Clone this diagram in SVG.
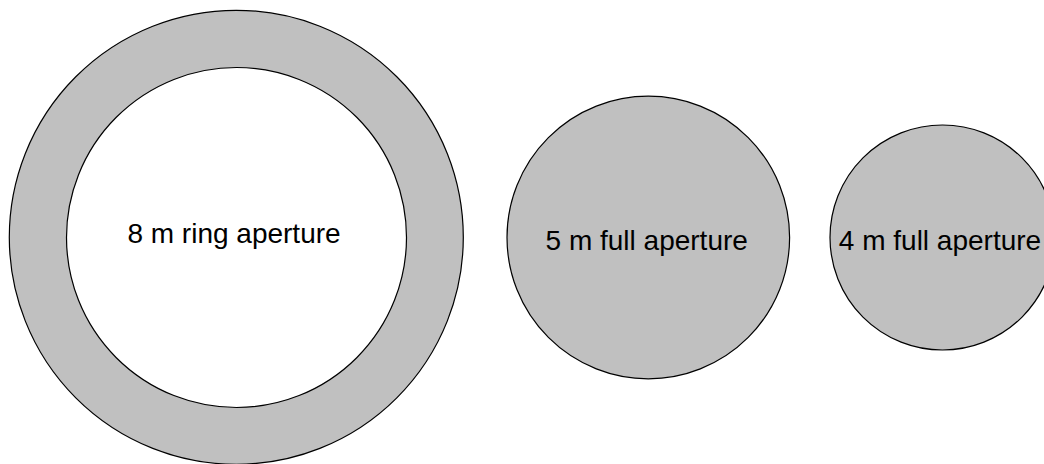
<svg xmlns="http://www.w3.org/2000/svg" width="1044" height="464" viewBox="0 0 1044 464">
<style>
.ap{fill:#c0c0c0;stroke:#000;stroke-width:1.2}
.hole{fill:#fff;stroke:#000;stroke-width:1.2}
.lbl{font-family:"Liberation Sans",Arial,sans-serif;font-size:28px;fill:#000;text-anchor:middle}
</style>
<rect width="1044" height="464" fill="#fff"/>
<g id="ring8">
<circle class="ap" cx="236.3" cy="237.3" r="227"/>
<circle class="hole" cx="236.5" cy="237.5" r="170"/>
<text class="lbl" x="234" y="243">8 m ring aperture</text>
</g>
<g id="full5">
<circle class="ap" cx="648.3" cy="237.5" r="141.3"/>
<text class="lbl" x="646.7" y="249.5">5 m full aperture</text>
</g>
<g id="full4">
<circle class="ap" cx="942.5" cy="237.5" r="112.5"/>
<text class="lbl" x="940" y="250">4 m full aperture</text>
</g>
<g id="connectors"/>
</svg>
